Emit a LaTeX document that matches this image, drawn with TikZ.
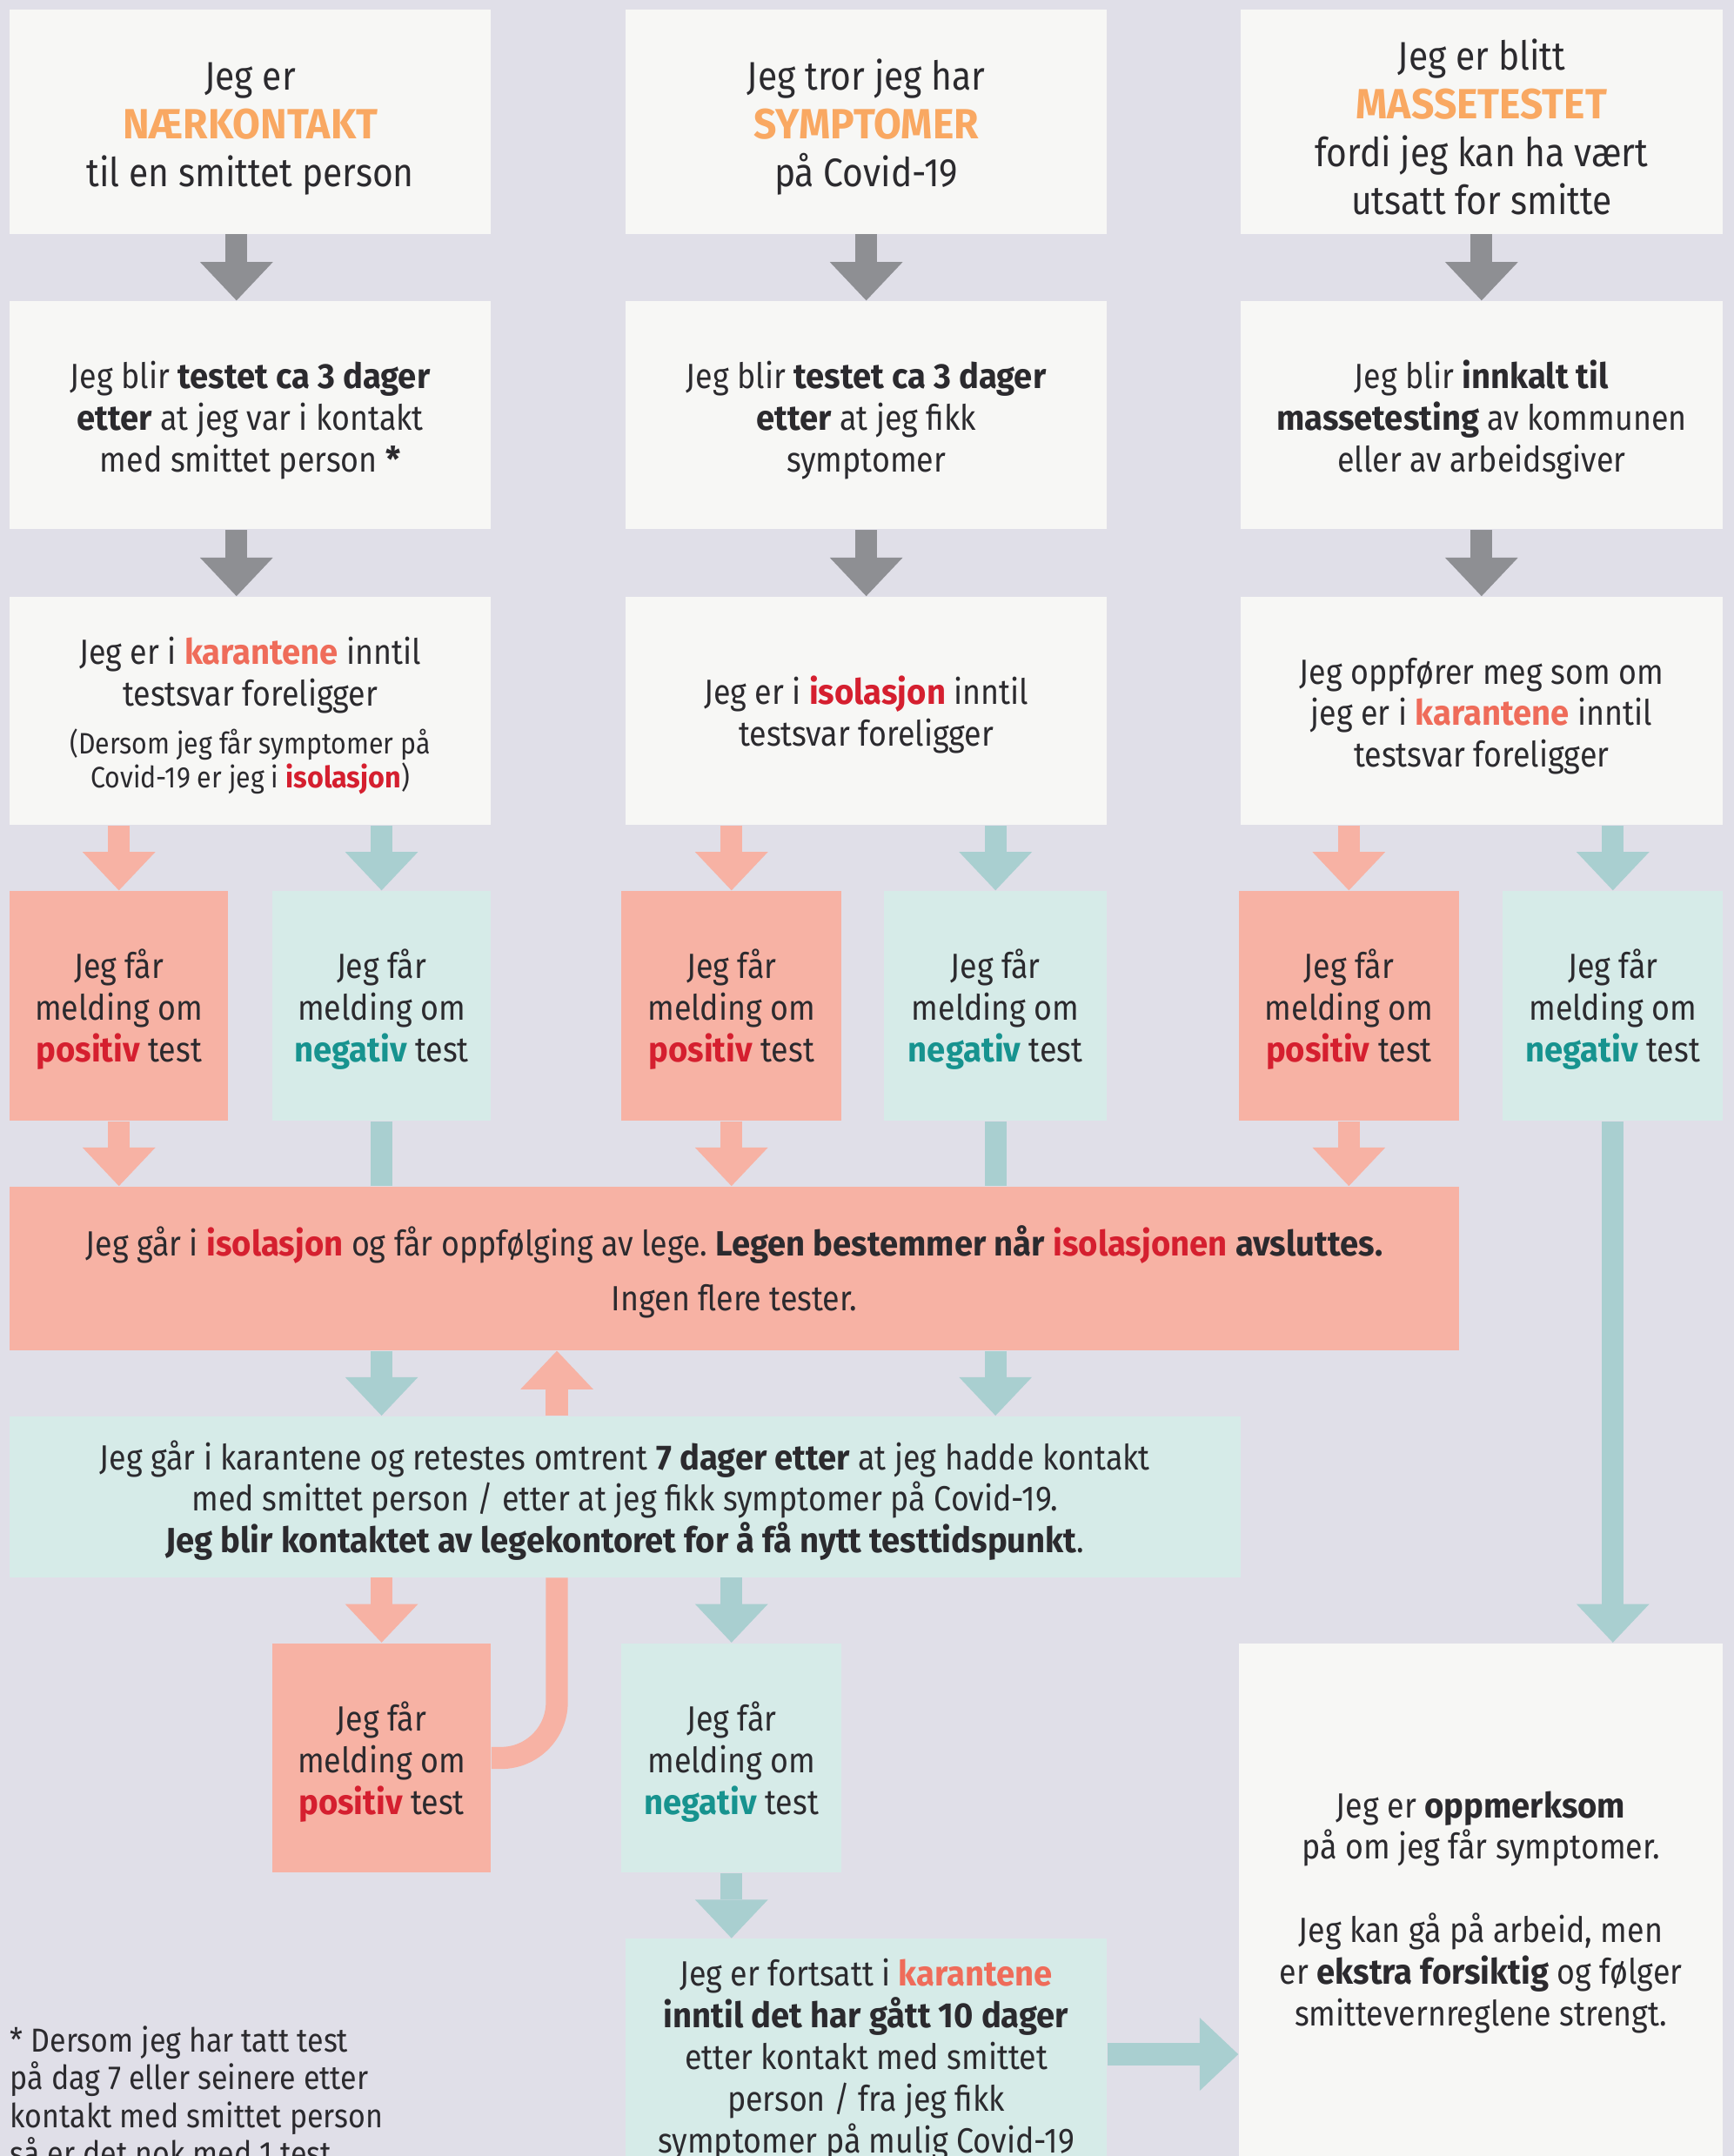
\documentclass[tikz,border=0pt]{standalone}
\usepackage{fontspec}
\setmainfont{Fira Sans}[UprightFeatures={FakeStretch=0.89}, BoldFeatures={FakeStretch=0.95}]
\frenchspacing
\usetikzlibrary{arrows.meta}

\definecolor{bgcol}{HTML}{E0DFE8}
\definecolor{boxwhite}{HTML}{F7F7F5}
\definecolor{boxsalmon}{HTML}{F7B2A4}
\definecolor{boxmint}{HTML}{D6EBE8}
\definecolor{arrteal}{HTML}{A9CFD0}
\definecolor{arrgray}{HTML}{8E8F93}
\definecolor{txtdark}{HTML}{2B2A2E}
\definecolor{txtorange}{HTML}{F9A862}
\definecolor{txtred}{HTML}{D51F2F}
\definecolor{txtcoral}{HTML}{EF6C5A}
\definecolor{txtteal}{HTML}{17938F}

\newcommand{\orangeword}[1]{{\fontsize{14}{15.9}\selectfont\textbf{\color{txtorange}#1}}}
\newcommand{\redword}[1]{\textbf{\color{txtred}#1}}
\newcommand{\coralword}[1]{\textbf{\color{txtcoral}#1}}
\newcommand{\tealword}[1]{\textbf{\color{txtteal}#1}}
\newcommand{\lift}{\rule{0pt}{1.05em}}

\tikzset{
  box/.style 2 args={inner sep=0pt, align=center, minimum width=#1*0.016cm, minimum height=#2*0.016cm},
  wbox/.style={fill=boxwhite},
  sbox/.style={fill=boxsalmon},
  mbox/.style={fill=boxmint},
  big/.style={font=\fontsize{13.2}{15.9}\selectfont},
  mid/.style={font=\fontsize{11.6}{13.8}\selectfont},
  foot/.style={font=\fontsize{11}{12.5}\selectfont},
  tip/.style={-{Triangle[width=0.848cm,length=0.448cm,line width=0pt]}},
  garrow/.style={draw=arrgray, line width=0.256cm, tip},
  sarrow/.style={draw=boxsalmon, line width=0.256cm, tip},
  tarrow/.style={draw=arrteal, line width=0.256cm, tip},
  tline/.style={draw=arrteal, line width=0.256cm},
  sline/.style={draw=boxsalmon, line width=0.256cm}
}

\begin{document}
\begin{tikzpicture}[x=0.016cm, y=-0.016cm, text=txtdark]
		\useasboundingbox (0,0) rectangle (1261,1568);
		\clip (0,0) rectangle (1261,1568);
		\fill[bgcol] (0,0) rectangle (1261,1568);
		
		% Coordinates for arrow columns
		\coordinate (X_g1) at (172,0);
		\coordinate (X_up) at (405,0);
		
		% First row
		\node[box={350}{163}, wbox, big] (near) at (182,88.5) {\lift Jeg er\\\orangeword{NÆRKONTAKT}\\til en smittet person};
		\node[box={350}{163}, wbox, big] (symp) at (630,88.5) {\lift Jeg tror jeg har\\\orangeword{SYMPTOMER}\\på Covid-19};
		\node[box={351}{163}, wbox, big] (mass) at (1077.5,88.5) {\lift Jeg er blitt\\\orangeword{MASSETESTET}\\fordi jeg kan ha vært\\utsatt for smitte};
		
		% Second row
		\node[box={350}{166}, wbox, mid] (near-test) at (182,302) {\lift Jeg blir \textbf{testet ca 3 dager}\\\textbf{etter} at jeg var i kontakt\\med smittet person \textbf{*}};
		\node[box={350}{166}, wbox, mid] (symp-test) at (630,302) {\lift Jeg blir \textbf{testet ca 3 dager}\\\textbf{etter} at jeg fikk\\symptomer};
		\node[box={351}{166}, wbox, mid] (mass-test) at (1077.5,302) {\lift Jeg blir \textbf{innkalt til}\\\textbf{massetesting} av kommunen\\eller av arbeidsgiver};
		
		% Third row
		\node[box={350}{166}, wbox, mid] (near-wait) at (182,517) {\lift Jeg er i \coralword{karantene} inntil\\testsvar foreligger\\[2.1pt]{\fontsize{9.8}{11.3}\selectfont (Dersom jeg får symptomer på}\\[-2.4pt]{\fontsize{9.8}{11.3}\selectfont Covid-19 er jeg i \redword{isolasjon})}};
		\node[box={350}{166}, wbox, mid] (symp-wait) at (630,517) {\lift Jeg er i \redword{isolasjon} inntil\\testsvar foreligger};
		\node[box={351}{166}, wbox, mid] (mass-wait) at (1077.5,517) {\lift Jeg oppfører meg som om\\jeg er i \coralword{karantene} inntil\\testsvar foreligger};
		
		% Test results
		\node[box={159}{167}, sbox, mid] (near-pos) at (86.5,731.5) {\lift Jeg får\\melding om\\\redword{positiv} test};
		\node[box={159}{167}, mbox, mid] (near-neg) at (277.5,731.5) {\lift Jeg får\\melding om\\\tealword{negativ} test};
		\node[box={160}{167}, sbox, mid] (symp-pos) at (532,731.5) {\lift Jeg får\\melding om\\\redword{positiv} test};
		\node[box={162}{167}, mbox, mid] (symp-neg) at (724,731.5) {\lift Jeg får\\melding om\\\tealword{negativ} test};
		\node[box={160}{167}, sbox, mid] (mass-pos) at (981,731.5) {\lift Jeg får\\melding om\\\redword{positiv} test};
		\node[box={160}{167}, mbox, mid] (mass-neg) at (1173,731.5) {\lift Jeg får\\melding om\\\tealword{negativ} test};
		
		% Isolation and retest
		\node[box={1054}{119}, sbox, mid] (iso) at (534,922.5) {\lift Jeg går i \redword{isolasjon} og får oppfølging av lege. \textbf{Legen bestemmer når} \redword{isolasjonen} \textbf{avsluttes.}\\[4.3pt]Ingen flere tester.};
		\node[box={895}{117}, mbox, mid] (retest) at (454.5,1088.5) {\lift Jeg går i karantene og retestes omtrent \textbf{7 dager etter} at jeg hadde kontakt\\med smittet person / etter at jeg fikk symptomer på Covid-19.\\\textbf{Jeg blir kontaktet av legekontoret for å få nytt testtidspunkt}.};
		\node[box={159}{167}, sbox, mid] (re-pos) at (277.5,1278.5) {\lift Jeg får\\melding om\\\redword{positiv} test};
		\node[box={160}{167}, mbox, mid] (re-neg) at (532,1278.5) {\lift Jeg får\\melding om\\\tealword{negativ} test};
		
		% Final boxes
		\node[box={350}{169}, mbox, mid] (stay) at (630,1494.5) {\lift Jeg er fortsatt i \coralword{karantene}\\\textbf{inntil det har gått 10 dager}\\etter kontakt med smittet\\person / fra jeg fikk\\symptomer på mulig Covid-19};
		\node[box={352}{384}, wbox, mid] (aware) at (1077,1387) {\lift Jeg er \textbf{oppmerksom}\\på om jeg får symptomer.\\[13.8pt]Jeg kan gå på arbeid, men\\er \textbf{ekstra forsiktig} og følger\\smittevernreglene strengt.};
		\node[foot, inner sep=0pt, align=left, anchor=north west] (note) at (7,1473) {* Dersom jeg har tatt test\\på dag 7 eller seinere etter\\kontakt med smittet person\\så er det nok med 1 test.};
		
		% Gray arrows
		\draw[garrow] (X_g1 |- near.south) -- (X_g1 |- near-test.north);
		\draw[garrow] (symp.south) -- (symp-test.north);
		\draw[garrow] (mass.south) -- (mass-test.north);
		\draw[garrow] (X_g1 |- near-test.south) -- (X_g1 |- near-wait.north);
		\draw[garrow] (symp-test.south) -- (symp-wait.north);
		\draw[garrow] (mass-test.south) -- (mass-wait.north);
		
		% Arrows to test results
		\draw[sarrow] (near-pos |- near-wait.south) -- (near-pos.north);
		\draw[tarrow] (near-neg |- near-wait.south) -- (near-neg.north);
		\draw[sarrow] (symp-pos |- symp-wait.south) -- (symp-pos.north);
		\draw[tarrow] (symp-neg |- symp-wait.south) -- (symp-neg.north);
		\draw[sarrow] (mass-pos |- mass-wait.south) -- (mass-pos.north);
		\draw[tarrow] (mass-neg |- mass-wait.south) -- (mass-neg.north);
		
		% Into isolation
		\draw[sarrow] (near-pos.south) -- (near-pos |- iso.north);
		\draw[sarrow] (symp-pos.south) -- (symp-pos |- iso.north);
		\draw[sarrow] (mass-pos.south) -- (mass-pos |- iso.north);
		\draw[tline] (near-neg.south) -- (near-neg |- iso.north);
		\draw[tline] (symp-neg.south) -- (symp-neg |- iso.north);
		\draw[tarrow] (mass-neg.south) -- (mass-neg |- aware.north);
		
		% Retest
		\draw[tarrow] (near-neg |- iso.south) -- (near-neg |- retest.north);
		\draw[tarrow] (symp-neg |- iso.south) -- (symp-neg |- retest.north);
		\draw[sarrow] (X_up |- retest.north) -- (X_up |- iso.south);
		\draw[sarrow] (re-pos |- retest.south) -- (re-pos.north);
		\draw[tarrow] (re-neg |- retest.south) -- (re-neg.north);
		\draw[sline, rounded corners=0.65cm] (X_up |- retest.south) |- (re-pos.east);
		
		% Final arrows
		\draw[tarrow] (re-neg.south) -- (re-neg |- stay.north);
		\draw[tarrow] (stay.east |- 0,1494) -- (aware.west |- 0,1494);
	\end{tikzpicture}
\end{document}
